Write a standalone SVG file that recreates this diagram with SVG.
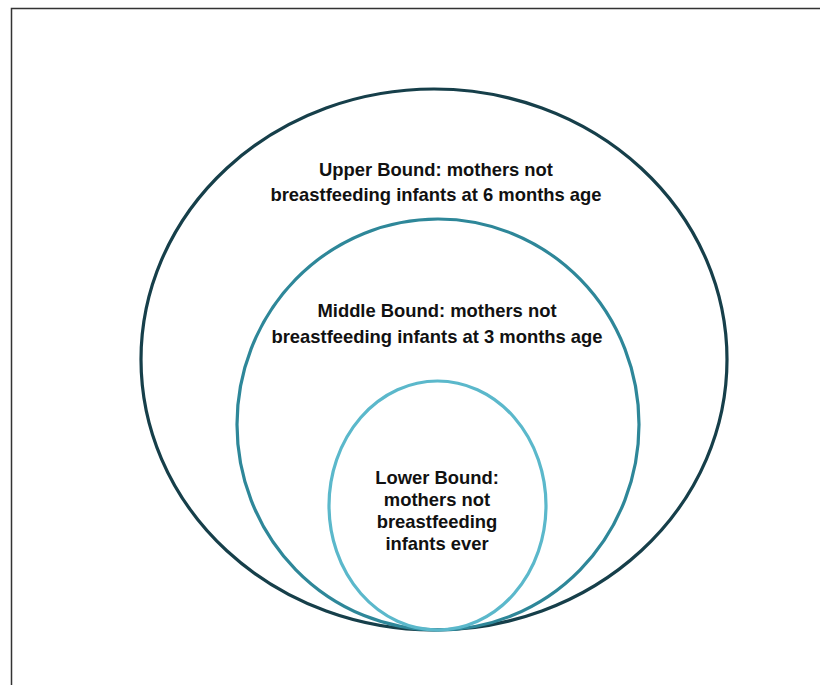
<svg xmlns="http://www.w3.org/2000/svg" width="820" height="685" viewBox="0 0 820 685">
<style>
.t{font-family:"Liberation Sans",Arial,sans-serif;font-weight:bold;font-size:18.4px;fill:#111;text-anchor:middle}
.c{fill:none;stroke-width:3.2}
</style>
<rect x="0" y="0" width="820" height="685" fill="#fff"/>
<path d="M11.5 690 V8.5 H825" fill="none" stroke="#333" stroke-width="1.5"/>
<g id="upper">
<ellipse class="c" cx="434" cy="359.5" rx="293" ry="270.5" stroke="#163f4a"/>
<text class="t" x="436" y="176">Upper Bound: mothers not</text>
<text class="t" x="436" y="201">breastfeeding infants at 6 months age</text>
</g>
<g id="middle">
<ellipse class="c" cx="438" cy="424.5" rx="201" ry="205.5" stroke="#2e8799"/>
<text class="t" x="437" y="317">Middle Bound: mothers not</text>
<text class="t" x="437" y="343">breastfeeding infants at 3 months age</text>
</g>
<g id="lower">
<ellipse class="c" cx="437.5" cy="505.5" rx="108.5" ry="124.5" stroke="#5bb8cb"/>
<text class="t" x="437" y="484">Lower Bound:</text>
<text class="t" x="437" y="506">mothers not</text>
<text class="t" x="437" y="528">breastfeeding</text>
<text class="t" x="437" y="550">infants ever</text>
</g>
</svg>
